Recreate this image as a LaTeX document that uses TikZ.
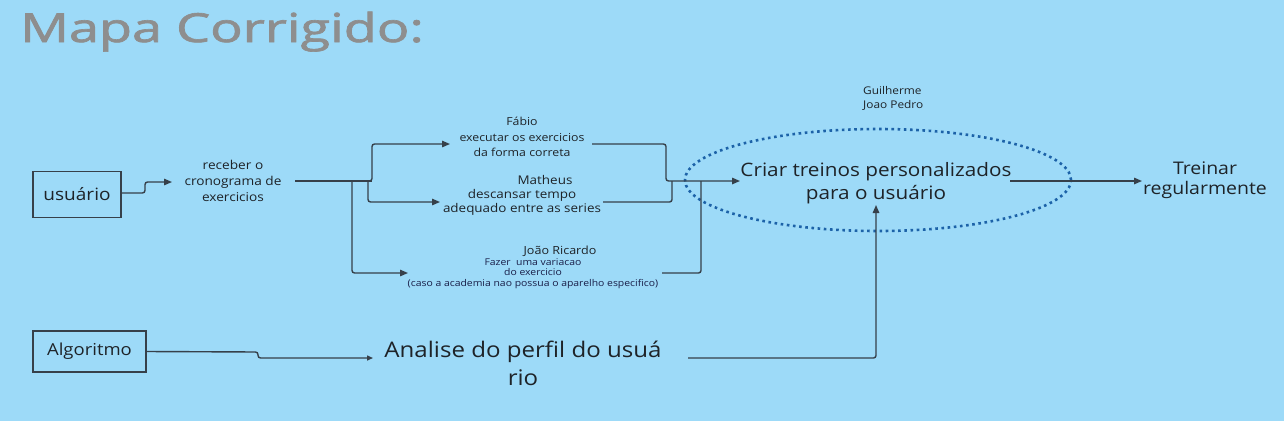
\documentclass[tikz,border=0pt]{standalone}
\usepackage{fontspec}
\setmainfont[FakeStretch=1.12]{Open Sans}
\newfontfamily\titlefont[FakeBold=1.6]{Open Sans}
\usetikzlibrary{arrows.meta,shapes.geometric}
\definecolor{bg}{HTML}{9DDAF8}
\definecolor{ttl}{HTML}{8E8E8E}
\definecolor{ln}{HTML}{36404A}
\definecolor{txt}{HTML}{1E2328}
\definecolor{dots}{HTML}{1C62A8}
\tikzset{
  conn/.style={draw=ln,line width=1.4pt,rounded corners=2.5pt},
  arr/.style={conn,-{Triangle[length=8pt,width=6.5pt]}},
  box/.style={draw=ln,line width=1.4pt,inner sep=0pt,text=txt},
  lbl/.style={text=txt,inner sep=0pt,align=center},
}
\begin{document}
\begin{tikzpicture}[x=1pt,y=-1pt]
\fill[bg] (0,0) rectangle (1284,421);
\useasboundingbox (0,0) rectangle (1284,421);
% title
\node[anchor=base west,text=ttl,inner sep=0pt,font=\titlefont\fontsize{40}{40}\selectfont] (title) at (20,42) {\scalebox{1.35}[1]{Mapa Corrigido:}};
% boxes
\node[box,minimum width=88pt,minimum height=46pt,font=\fontsize{17}{20}\selectfont] (usuario) at (77,194.5) {usuário};
\node[box,minimum width=113pt,minimum height=41pt,font=\fontsize{16.5}{19}\selectfont] (algo) at (89.5,351.5) {Algoritmo};
% texts
\node[lbl,font=\fontsize{12.2}{16}\selectfont] (receber) at (233,181) {receber o\\cronograma de\\exercicios};
\node[lbl,font=\fontsize{11}{15.5}\selectfont] (fabio) at (522,137) {Fábio\\executar os exercicios\\da forma correta};
\node[lbl,font=\fontsize{12}{14}\selectfont] (matheus) at (522,195) {\hspace*{46pt}Matheus\\descansar tempo\\adequado entre as series};
\node[lbl,font=\fontsize{11.2}{14}\selectfont] (joao) at (560,251) {João Ricardo};
\node[lbl,font=\fontsize{9.3}{10.5}\selectfont,text=txt!85!blue] (joaotxt) at (533,273.5) {Fazer\ \ uma variacao\\do exercicio\\(caso a academia nao possua o aparelho especifico)};
\node[lbl,font=\fontsize{18.5}{23}\selectfont] (criar) at (876,183) {Criar treinos personalizados\\para o usuário};
\node[ellipse,draw=dots,line width=2.6pt,dash pattern=on 2.6pt off 3.6pt,minimum width=386pt,minimum height=102pt,inner sep=0pt] (ell) at (878,180) {};
\node[lbl,align=left,anchor=west,font=\fontsize{10.6}{14}\selectfont] (guil) at (863,98) {Guilherme\\Joao Pedro};
\node[lbl,font=\fontsize{17.4}{20}\selectfont] (treinar) at (1205,180) {Treinar\\regularmente};
\node[lbl,font=\fontsize{21.5}{28}\selectfont] (analise) at (523,363) {Analise do perfil do usuá\\rio};
% connector waypoints
\coordinate (r0) at (295,181);
\coordinate (fa) at (450,144);
\coordinate (ma) at (440,202);
\coordinate (ja) at (408,273);
\coordinate (f1) at (592,144);
\coordinate (m1) at (603,202);
\coordinate (j1) at (662,273);
\coordinate (ca) at (740,181);
\coordinate (c1) at (1010,181);
\coordinate (ta) at (1142,181);
\coordinate (aa) at (373,358);
\coordinate (a1) at (688,358);
\coordinate (pa) at (876,205);
% connectors
\draw[arr] (usuario.east |- 0,193) -- (145,193) -- (145,182) -- (172,182);
\draw[conn] (r0) -- (372,181);
\draw[arr] (352,181) -- (352,273) -- (ja);
\draw[arr] (368,181) -- (368,202) -- (ma);
\draw[arr] (366,181) -- (372,181) -- (372,144) -- (fa);
\draw[arr] (f1) -- (666,144) -- (666,181) -- (ca);
\draw[conn] (m1) -- (672,202) -- (672,181);
\draw[conn] (j1) -- (701,273) -- (701,181);
\draw[arr] (c1) -- (ta);
\draw[conn,-{Triangle[length=6pt,width=5pt]}] (algo.east) -- (258,352) -- (258,358) -- (aa);
\draw[arr] (a1) -- (876,358) -- (pa);
\end{tikzpicture}
\end{document}
